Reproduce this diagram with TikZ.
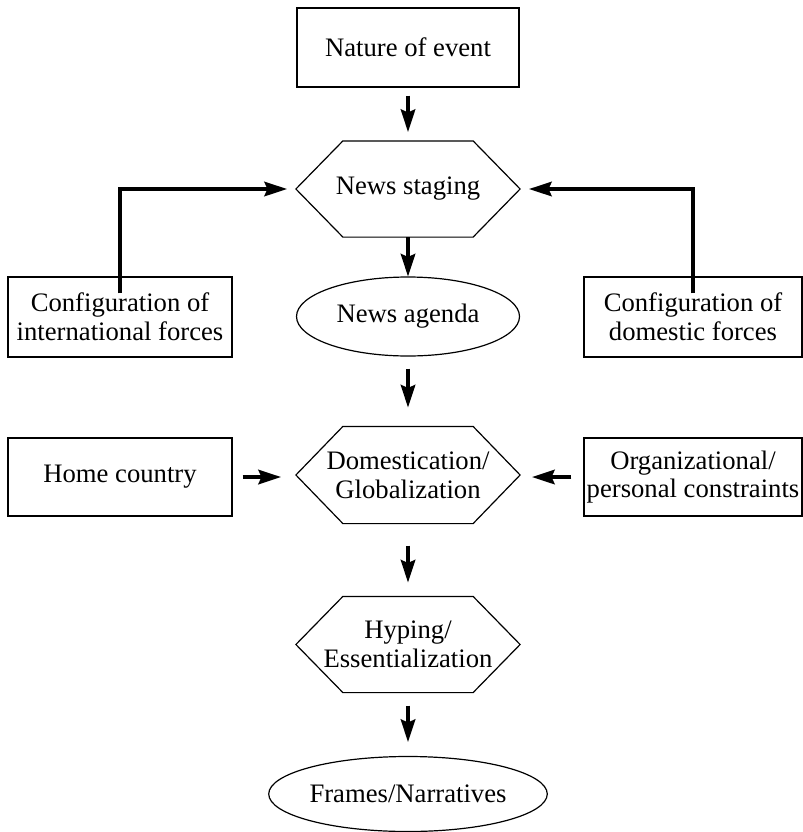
\documentclass[tikz,border=0pt]{standalone}
\usepackage{fontspec}
\setmainfont{Liberation Serif}
\usetikzlibrary{arrows.meta,shapes.geometric}

\tikzset{every picture/.style={line width=0.9pt}}
\tikzset{
  txt/.style={font=\fontsize{20}{21.5}\selectfont, align=center, inner sep=0pt},
  boxnode/.style={txt, draw, rectangle, minimum width=#1, minimum height=59.25pt},
  hexnode/.style={txt, rectangle, minimum width=167.25pt, minimum height=71.25pt},
  ovalnode/.style={txt, draw, ellipse, minimum width=167.25pt, minimum height=#1},
  flow/.style={-{Stealth[length=17pt,width=11pt,inset=2.5pt]}, line width=2.3pt},
}
% outline of a hexagon round a named node
\newcommand\hexa[1]{\draw (#1.west) -- ([xshift=35.25pt]#1.north west) -- ([xshift=-35.25pt]#1.north east)
  -- (#1.east) -- ([xshift=-35.25pt]#1.south east) -- ([xshift=35.25pt]#1.south west) -- cycle;}

\begin{document}
\begin{tikzpicture}[x=0.75pt,y=0.75pt,yscale=-1,xscale=1]
\useasboundingbox (0,0) rectangle (803,832);

%Main column
\node[boxnode=166.5pt] (event) at (408,47.5) {Nature of event};
\node[hexnode] (staging) at (408,189) {News staging};
\node[ovalnode=59.25pt] (agenda) at (408,316.5) {News agenda};
\node[hexnode, minimum height=72pt] (globe) at (408,475) {Domestication/\\Globalization};
\node[hexnode] (hype) at (408,644.5) {Hyping/\\Essentialization};
\node[ovalnode=56.25pt] (frames) at (408,794) {Frames/Narratives};
\hexa{staging}
\hexa{globe}
\hexa{hype}

%Side boxes
\node[boxnode=168pt, minimum height=60pt] (intl) at (120,317) {Configuration of\\international forces};
\node[boxnode=163.5pt, minimum height=60pt] (domf) at (693,317) {Configuration of\\domestic forces};
\node[boxnode=168pt, minimum height=58.5pt] (home) at (120,477) {Home country};
\node[boxnode=163.5pt, minimum height=58.5pt] (org) at (693,477) {Organizational/\\personal constraints};

%Arrows down the middle
\draw[flow, shorten <=6pt, shorten >=6.75pt] (event.south) -- (staging.north);
\draw[flow] (staging.south) -- (agenda.north);
\draw[flow, shorten <=9pt, shorten >=14.25pt] (agenda.south) -- (globe.north);
\draw[flow, shorten <=16.5pt, shorten >=10.5pt] (globe.south) -- (hype.north);
\draw[flow, shorten <=9.75pt, shorten >=10.5pt] (hype.south) -- (frames.north);

%Arrows from the sides
\draw[flow] ([yshift=12.75pt]intl.north) |- ([xshift=-6.75pt]staging.west);
\draw[flow] ([yshift=12.75pt]domf.north) |- ([xshift=6.75pt]staging.east);
\draw[flow, shorten <=7.5pt, shorten >=11.25pt] (home.east) -- (home.east -| globe.west);
\draw[flow, shorten <=9pt, shorten >=9pt] (org.west) -- (org.west -| globe.east);

\end{tikzpicture}
\end{document}
